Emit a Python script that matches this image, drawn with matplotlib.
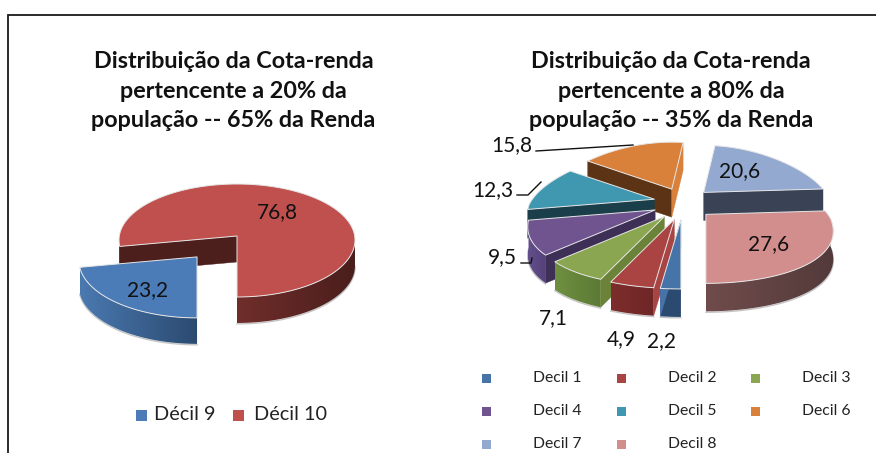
import numpy as np
import matplotlib
matplotlib.use("Agg")
import matplotlib.pyplot as plt
from matplotlib.patches import Polygon, Rectangle
from matplotlib.colors import to_rgb

plt.rcParams['font.family'] = ['Lato', 'DejaVu Sans']

# ---------- data ----------
title_left = "Distribuição da Cota-renda\npertencente a 20% da\npopulação -- 65% da Renda"
title_right = "Distribuição da Cota-renda\npertencente a 80% da\npopulação -- 35% da Renda"
names_left = ["Décil 9", "Décil 10"]
values_left = [23.2, 76.8]
names_right = ["Decil 1", "Decil 2", "Decil 3", "Decil 4",
               "Decil 5", "Decil 6", "Decil 7", "Decil 8"]
values_right = [2.2, 4.9, 7.1, 9.5, 12.3, 15.8, 20.6, 27.6]

# ---------- styles ----------
colors_left = ["#4b7cb8", "#bf504d"]
colors_right = ["#4673a8", "#a94442", "#8aa650", "#6f5490",
                "#3f97b0", "#d9813b", "#93a9d0", "#d28e8d"]
# per slice: outer wall colour at left / right, start-face, end-face
walls_left = [("#4a79b0", "#2b4a70", None, None),
              ("#702e2b", "#4a1e1c", "#4c1e1c", None)]
walls_right = [("#2b4a70", "#2b4a70", None, "#4673a8"),
               ("#7d2e2c", "#6e2626", "#a84543", None),
               ("#6f8f40", "#5c7a35", "#6b8339", None),
               ("#63508a", "#55407a", "#3d2f55", None),
               ("#1b3f4a", "#1b3f4a", "#1b3f4a", None),
               ("#5c3415", "#5c3415", "#5c3415", "#d9813b"),
               ("#3a4356", "#3a4356", None, "#3a4356"),
               ("#704c4c", "#533a3a", None, None)]


def rim(theta, p):
    u, v = np.sin(theta), -np.cos(theta)
    x = p["rx"] * u * (1 + p["k"] * v)
    y = p["yoff"] + v * np.where(v > 0, p["ry_front"], p["ry_back"])
    return x, y


def gradient_wall(ax, xv, yv, d, wl, wr, z):
    """One visible stretch of outer wall, filled with a left-right gradient."""
    poly = np.vstack([np.column_stack([xv, yv]),
                      np.column_stack([xv[::-1], yv[::-1] + d])])
    cl, cr = np.array(to_rgb(wl)), np.array(to_rgb(wr))
    ramp = np.linspace(0, 1, 128)[:, None]
    img = (cl + (cr - cl) * ramp)[None, :, :]
    x0, x1 = xv.min(), xv.max()
    if x1 - x0 < 0.5:
        x1 = x0 + 0.5
    im = ax.imshow(img, extent=(x0, x1, yv.max() + d + 1, yv.min() - 1), aspect="auto",
                   interpolation="bilinear", zorder=z)
    clip = Polygon(poly, closed=True, transform=ax.transData, fc="none", ec="none")
    im.set_clip_path(clip)
    # faint shadow under the wall
    ax.plot(xv, yv + d + 0.9, color="#c4c4c4", lw=1.0, zorder=z - 0.1)


def draw_pie(ax, values, colors, walls, order, explode, p):
    edges = np.radians(p["start"] + 3.6 * np.concatenate([[0], np.cumsum(values)]))
    for i in order:
        z = p["z"]
        a0, a1 = edges[i], edges[i + 1]
        mid = (a0 + a1) / 2
        ax0 = p["cx"] + explode[i] * p["ex"] * np.sin(mid)
        ay0 = p["cy"] - explode[i] * p["ey"] * np.cos(mid)
        t = np.linspace(a0, a1, 120)
        dx, dy = rim(t, p)
        xs, ys = ax0 + dx, ay0 + dy
        d = p["depth"]
        wl, wr, fs, fe = walls[i]
        # outer wall: each contiguous front-facing stretch on its own
        vis = -np.cos(t) > -0.03
        idx = np.flatnonzero(vis)
        if idx.size > 1:
            for run in np.split(idx, np.flatnonzero(np.diff(idx) > 1) + 1):
                if run.size > 1:
                    gradient_wall(ax, xs[run], ys[run], d, wl, wr, z)
        # cut faces
        if fs:
            ax.add_patch(Polygon([(ax0, ay0), (xs[0], ys[0]), (xs[0], ys[0] + d), (ax0, ay0 + d)],
                                 closed=True, fc=fs, ec=fs, lw=0.3, zorder=z + 0.1))
        if fe:
            ax.add_patch(Polygon([(ax0, ay0), (xs[-1], ys[-1]), (xs[-1], ys[-1] + d), (ax0, ay0 + d)],
                                 closed=True, fc=fe, ec=fe, lw=0.3, zorder=z + 0.1))
        # top face
        top = np.column_stack([np.r_[ax0, xs], np.r_[ay0, ys]])
        ax.add_patch(Polygon(top, closed=True, fc=colors[i], ec="#e6e6e6", lw=0.7,
                             joinstyle="round", zorder=z + 0.2))
        p["z"] += 1


fig = plt.figure(figsize=(8.76, 4.53), dpi=100, facecolor="white")
ax = fig.add_axes([0, 0, 1, 1])

# frame
ax.plot([7.5, 7.5, 876], [453, 15, 15], color="#1a1a1a", lw=1.3, solid_joinstyle="miter")

# titles
for x, s in [(233.5, title_left), (671, title_right)]:
    ax.text(x, 91, s, ha="center", va="center", fontsize=16.8, fontweight="bold",
            color="#111111", linespacing=1.52, zorder=20)

# pies
left_params = dict(cx=237, cy=236, rx=118, k=0.0, ry_front=57, ry_back=56, yoff=4,
                   depth=26, start=180, ex=60, ey=28, z=3)
draw_pie(ax, values_left, colors_left, walls_left, [1, 0], [1, 0], left_params)

right_params = dict(cx=683, cy=204, rx=125, k=0.2, ry_front=64, ry_back=52, yoff=5,
                    depth=28, start=180, ex=30, ey=16, z=3)
draw_pie(ax, values_right, colors_right, walls_right, [5, 6, 4, 3, 2, 1, 0, 7],
         [1] * 8, right_params)

# value labels
fmt = lambda v: f"{v:.1f}".replace(".", ",")
label_pos_left = [(148, 290), (277, 212)]
label_pos_right = [(662, 341), (621, 339), (553, 318), (502, 257),
                   (493, 190), (512, 145), (740, 171), (769, 244)]
for v, (x, y) in zip(values_left + values_right, label_pos_left + label_pos_right):
    ax.text(x, y, fmt(v), ha="center", va="center", fontsize=15, color="#111111", zorder=30)

# leader lines
for xs, ys in [([536, 633], [151, 145]),
               ([517, 528, 541], [195, 195, 182]),
               ([521, 531, 532], [263, 263, 258])]:
    ax.plot(xs, ys, color="#111111", lw=1.0, zorder=30)

# legends
leg_left = [(136, 154), (233, 254)]
for (sx, tx), n, c in zip(leg_left, names_left, colors_left):
    ax.add_patch(Rectangle((sx, 409.5), 11, 11, fc=c, ec="none"))
    ax.text(tx, 414.5, n, ha="left", va="center", fontsize=14.3, color="#222222")

sq_x = [482, 617, 751]
tx_x = [533, 668, 802]
row_y = [378, 411, 444]
for i, (n, c) in enumerate(zip(names_right, colors_right)):
    col, row = i % 3, i // 3
    ax.add_patch(Rectangle((sq_x[col], row_y[row] - 4.5), 9, 9, fc=c, ec="none"))
    ax.text(tx_x[col], row_y[row], n, ha="left", va="center", fontsize=11.3, color="#222222")

ax.set_xlim(0, 876)
ax.set_ylim(453, 0)
ax.axis("off")

fig.savefig("out.png", dpi=100, facecolor="white")
